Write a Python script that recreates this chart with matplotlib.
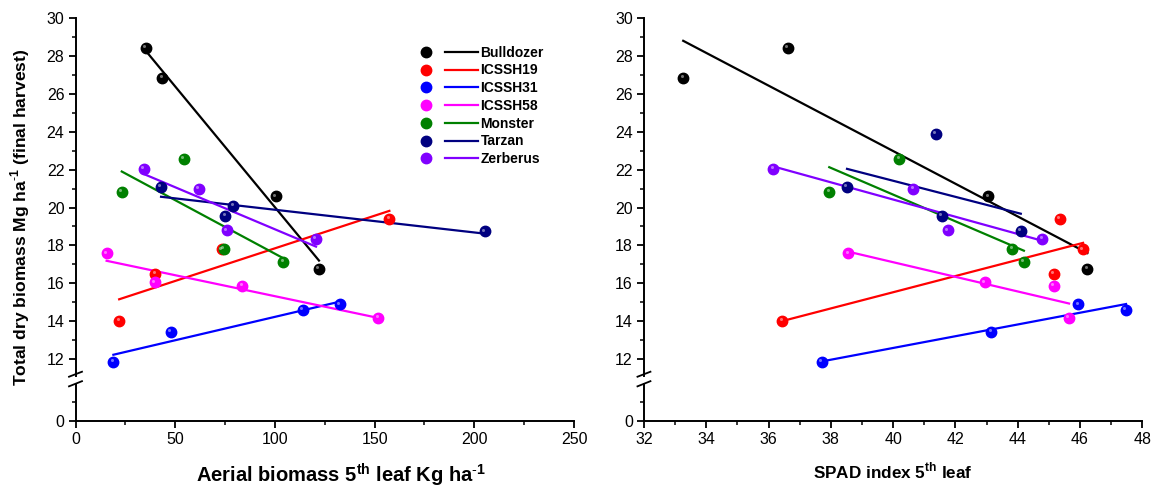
import matplotlib
matplotlib.use('Agg')
import matplotlib.pyplot as plt
import numpy as np
from matplotlib.lines import Line2D
from matplotlib.legend_handler import HandlerTuple
from matplotlib.ticker import MultipleLocator
from matplotlib.transforms import ScaledTranslation

plt.rcParams['font.family'] = 'Liberation Sans'
plt.rcParams['mathtext.fontset'] = 'custom'
plt.rcParams['mathtext.rm'] = 'Liberation Sans'
plt.rcParams['mathtext.bf'] = 'Liberation Sans:bold'

genotypes = ['Bulldozer', 'ICSSH19', 'ICSSH31', 'ICSSH58', 'Monster', 'Tarzan', 'Zerberus']
colors = ['#000000', '#ff0000', '#0000ff', '#ff00ff', '#008000', '#000080', '#8000ff']

# aerial biomass of 5th leaf (Kg/ha) vs total dry biomass (Mg/ha)
aerial_x = [
    [35.2, 43.5, 100.5, 122.1],
    [21.9, 40.0, 73.5, 157.4],
    [19.0, 47.9, 113.9, 132.6],
    [15.6, 39.7, 83.6, 151.9],
    [23.2, 54.3, 74.5, 104.2],
    [42.9, 79.1, 75.2, 205.4],
    [34.2, 61.9, 75.9, 120.6],
]
aerial_y = [
    [28.45, 26.87, 20.60, 16.75],
    [14.00, 16.49, 17.80, 19.40],
    [11.86, 13.42, 14.59, 14.89],
    [17.59, 16.05, 15.87, 14.18],
    [20.84, 22.58, 17.82, 17.14],
    [21.09, 20.10, 19.57, 18.75],
    [22.06, 20.98, 18.80, 18.34],
]

# SPAD index of 5th leaf vs total dry biomass (Mg/ha)
spad_x = [
    [33.26, 36.61, 43.06, 46.24],
    [36.44, 45.17, 46.10, 45.35],
    [37.71, 43.15, 47.48, 45.95],
    [38.56, 42.95, 45.17, 45.65],
    [37.95, 40.20, 43.83, 44.20],
    [38.52, 41.37, 41.56, 44.10],
    [36.15, 40.65, 41.75, 44.79],
]
spad_y = [
    [26.87, 28.45, 20.60, 16.75],
    [14.00, 16.49, 17.80, 19.40],
    [11.86, 13.42, 14.59, 14.89],
    [17.59, 16.05, 15.87, 14.18],
    [20.84, 22.58, 17.82, 17.14],
    [21.09, 23.89, 19.57, 18.76],
    [22.06, 20.98, 18.80, 18.34],
]

fig = plt.figure(figsize=(11.58, 4.91), dpi=100)


def style(ax):
    for s in ['top', 'right']:
        ax.spines[s].set_visible(False)
    for s in ['left', 'bottom']:
        ax.spines[s].set_linewidth(1.4)
    ax.tick_params(which='major', direction='out', length=5, width=1.3, labelsize=11.5, pad=3)
    ax.tick_params(which='minor', direction='out', length=3, width=1.1)


def panel(left, width, xs, ys, xlim, xmaj, xmin):
    top = fig.add_axes([left, 0.2342, width, 0.7285])
    bot = fig.add_axes([left, 0.1432, width, 0.0752], sharex=top)
    style(top)
    style(bot)
    top.set_ylim(11.1, 30)
    bot.set_ylim(0, 1.95)
    top.yaxis.set_major_locator(MultipleLocator(2))
    top.yaxis.set_minor_locator(MultipleLocator(1))
    bot.yaxis.set_major_locator(MultipleLocator(2))
    bot.yaxis.set_minor_locator(MultipleLocator(1))
    top.spines['bottom'].set_visible(False)
    top.tick_params(axis='x', which='both', bottom=False, labelbottom=False)
    bot.set_xlim(*xlim)
    bot.xaxis.set_major_locator(MultipleLocator(xmaj))
    bot.xaxis.set_minor_locator(MultipleLocator(xmin))

    hl = top.transData + ScaledTranslation(-1.2 / 72, 1.2 / 72, fig.dpi_scale_trans)
    for x, y, c in zip(xs, ys, colors):
        x = np.array(x)
        y = np.array(y)
        k, b = np.polyfit(x, y, 1)
        xx = np.array([x.min(), x.max()])
        top.plot(xx, k * xx + b, color=c, lw=1.6, zorder=2)
        top.plot(x, y, 'o', color=c, ms=7.5, mec=c, zorder=3)
        top.plot(x, y, 'o', color='white', ms=2.2, mew=0, alpha=0.45, transform=hl, zorder=4)

    # "//" break marks on the y axis
    top.plot([-0.013, 0.013], [-0.002, 0.012], color='black', lw=1.3,
             transform=top.transAxes, clip_on=False)
    bot.plot([-0.013, 0.013], [0.93, 1.07], color='black', lw=1.3,
             transform=bot.transAxes, clip_on=False)
    return top, bot


t1, b1 = panel(0.0652, 0.4305, aerial_x, aerial_y, (0, 250), 50, 25)
t2, b2 = panel(0.5561, 0.4303, spad_x, spad_y, (32, 48), 2, 1)

b1.set_xlabel(r'Aerial biomass 5$^{\mathbf{th}}$ leaf Kg ha$^{\mathbf{\text{-}1}}$',
              fontsize=14.5, fontweight='bold')
b1.xaxis.set_label_coords(0.532, -1.1)
b2.set_xlabel(r'SPAD index 5$^{\mathbf{th}}$ leaf', fontsize=12.3, fontweight='bold', labelpad=10)
fig.text(0.0175, 0.557, r'Total dry biomass Mg ha$^{\mathbf{\text{-}1}}$ (final harvest)',
         rotation=90, ha='center', va='center', fontsize=12.6, fontweight='bold')

handles = [(Line2D([], [], marker='o', ls='', color=c, ms=7.5),
            Line2D([], [], color=c, lw=1.6)) for c in colors]
t1.legend(handles, genotypes, handler_map={tuple: HandlerTuple(ndivide=None, pad=0.25)},
          loc='upper left', bbox_to_anchor=(0.3536, 0.907), bbox_transform=fig.transFigure,
          frameon=False, borderpad=0, borderaxespad=0, handlelength=4.9, handletextpad=0.22,
          labelspacing=0.27, prop={'weight': 'bold', 'size': 10})

fig.savefig('out.png', dpi=100)
